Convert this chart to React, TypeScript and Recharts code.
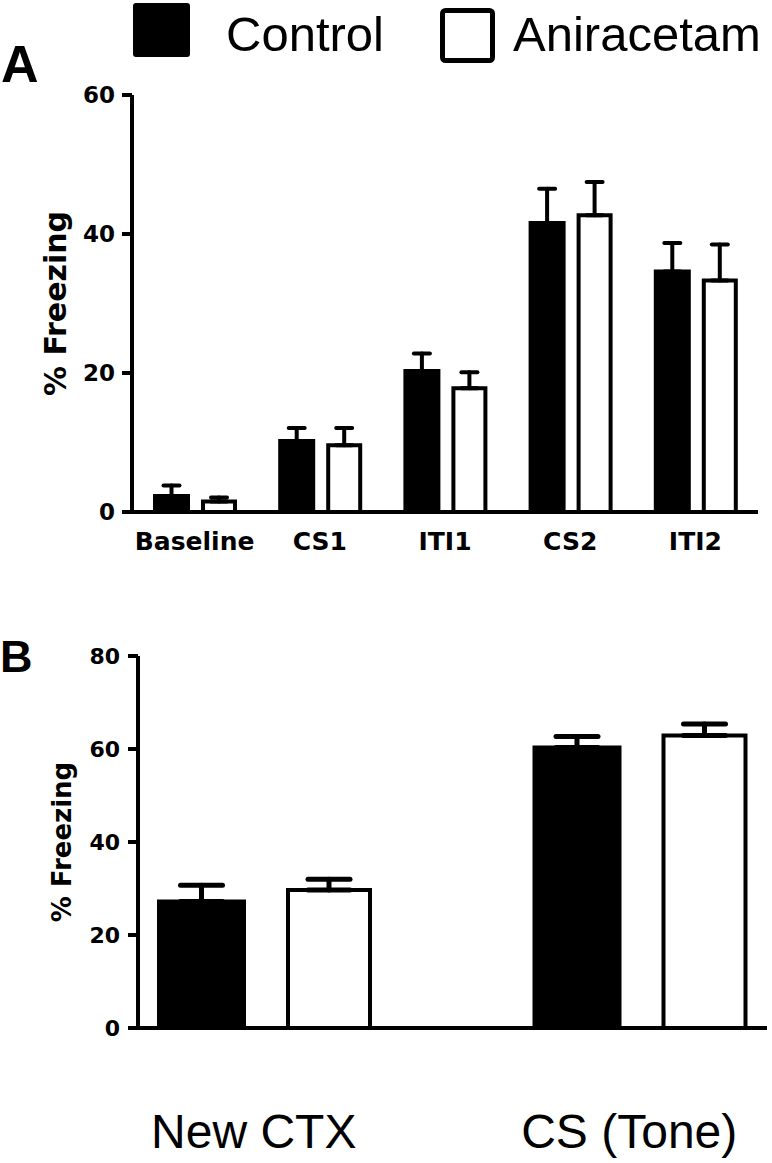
import React from 'react';
import { BarChart, Bar, XAxis, YAxis, ErrorBar, Legend } from 'recharts';

// ---- Panel A data ----
const categoriesA = ['Baseline', 'CS1', 'ITI1', 'CS2', 'ITI2'];
const controlA = [2.3, 10.2, 20.3, 41.6, 34.6];
const controlErrA = [1.5, 1.9, 2.5, 4.9, 4.1];
const aniracetamA = [1.5, 9.6, 17.8, 42.7, 33.3];
const aniracetamErrA = [0.6, 2.5, 2.3, 4.8, 5.2];
const ticksA = [0, 20, 40, 60];

// ---- Panel B data ----
const categoriesB = ['New CTX', 'CS (Tone)'];
const controlB = [27.2, 60.3];
const controlErrB = [3.5, 2.4];
const aniracetamB = [29.7, 62.9];
const aniracetamErrB = [2.3, 2.5];
const ticksB = [0, 20, 40, 60, 80];

const seriesNames = ['Control', 'Aniracetam'];
const yLabel = '% Freezing';

const dataA = categoriesA.map((c, i) => ({
  name: c,
  control: controlA[i],
  controlErr: [0, controlErrA[i]],
  ani: aniracetamA[i],
  aniErr: [0, aniracetamErrA[i]],
}));

const dataB = categoriesB.map((c, i) => ({
  name: c,
  control: controlB[i],
  controlErr: [0, controlErrB[i]],
  ani: aniracetamB[i],
  aniErr: [0, aniracetamErrB[i]],
}));

const BOLD = "'DejaVu Sans', sans-serif";
const REG = "'Liberation Sans', Arial, sans-serif";

const legendBoxes = [
  { x: 133, y: 3, w: 57, h: 54, sw: 0, tx: 226 },
  { x: 442.5, y: 10.5, w: 50, h: 50, sw: 5, tx: 513 },
];

const LegendContent = (props: any) => {
  const payload = props.payload || [];
  return (
    <svg width={772} height={70} style={{ display: 'block' }}>
      {payload.map((p: any, i: number) => {
        const idx = Math.max(0, seriesNames.indexOf(p.value));
        const b = legendBoxes[idx];
        return (
          <g key={i}>
            <rect x={b.x} y={b.y} width={b.w} height={b.h} rx={3} fill={p.color} stroke="#000" strokeWidth={b.sw} />
            <text x={b.tx} y={51} fontFamily={REG} fontSize={49} fill="#000">
              {p.value}
            </text>
          </g>
        );
      })}
    </svg>
  );
};

const makeYLabel = (cx: number, size: number) => (props: any) => {
  const vb = props.viewBox || { y: 0, height: 0 };
  const cy = vb.y + vb.height / 2;
  return (
    <text
      x={cx}
      y={cy}
      transform={`rotate(-90, ${cx}, ${cy})`}
      textAnchor="middle"
      dominantBaseline="central"
      fontFamily={BOLD}
      fontWeight="bold"
      fontSize={size}
      fill="#000"
    >
      {yLabel}
    </text>
  );
};

export default function App() {
  return (
    <div style={{ position: 'absolute', left: 0, top: 0, width: 772, height: 1163, background: '#fff' }}>
      <div style={{ position: 'absolute', left: 0, top: 0 }}>
        <BarChart
          width={772}
          height={560}
          data={dataA}
          margin={{ top: 95, right: 14, left: 0, bottom: 0 }}
          barGap={15}
        >
          <XAxis
            dataKey="name"
            interval={0}
            height={48}
            tickSize={0}
            tickMargin={20}
            axisLine={{ stroke: '#000', strokeWidth: 4 }}
            tickLine={false}
            tick={{ fill: '#000', fontSize: 25, fontWeight: 'bold', fontFamily: BOLD }}
          />
          <YAxis
            type="number"
            domain={[0, 60]}
            ticks={ticksA}
            width={132}
            tickSize={10}
            tickMargin={7}
            axisLine={{ stroke: '#000', strokeWidth: 4 }}
            tickLine={{ stroke: '#000', strokeWidth: 4 }}
            tick={{ fill: '#000', fontSize: 23, fontWeight: 'bold', fontFamily: BOLD }}
            label={{ content: makeYLabel(55, 30) }}
          />
          <Legend
            layout="horizontal"
            verticalAlign="middle"
            align="center"
            itemSorter={null as any}
            wrapperStyle={{ position: 'absolute', top: 0, left: 0, width: 772, height: 70 }}
            content={<LegendContent />}
          />
          <Bar dataKey="control" name={seriesNames[0]} fill="#000" stroke="#000" strokeWidth={4} barSize={33} isAnimationActive={false}>
            <ErrorBar dataKey="controlErr" direction="y" width={8} strokeWidth={4} stroke="#000" strokeLinecap="round" isAnimationActive={false} />
          </Bar>
          <Bar dataKey="ani" name={seriesNames[1]} fill="#fff" stroke="#000" strokeWidth={4} barSize={32} isAnimationActive={false}>
            <ErrorBar dataKey="aniErr" direction="y" width={8} strokeWidth={4} stroke="#000" strokeLinecap="round" isAnimationActive={false} />
          </Bar>
        </BarChart>
      </div>

      <div style={{ position: 'absolute', left: 0, top: 580 }}>
        <BarChart
          width={772}
          height={583}
          data={dataB}
          margin={{ top: 76, right: 5, left: 0, bottom: 0 }}
          barGap={44}
        >
          <XAxis
            dataKey="name"
            interval={0}
            height={135}
            tickSize={0}
            tickMargin={86}
            padding={{ left: -61, right: -61 }}
            axisLine={{ stroke: '#000', strokeWidth: 4 }}
            tickLine={false}
            tick={{ fill: '#000', fontSize: 48, fontFamily: REG, dx: -11 }}
          />
          <YAxis
            type="number"
            domain={[0, 80]}
            ticks={ticksB}
            width={138}
            tickSize={10}
            tickMargin={8}
            axisLine={{ stroke: '#000', strokeWidth: 4 }}
            tickLine={{ stroke: '#000', strokeWidth: 4 }}
            tick={{ fill: '#000', fontSize: 22, fontWeight: 'bold', fontFamily: BOLD }}
            label={{ content: makeYLabel(62, 26) }}
          />
          <Bar dataKey="control" name={seriesNames[0]} fill="#000" stroke="#000" strokeWidth={4} barSize={85} isAnimationActive={false}>
            <ErrorBar dataKey="controlErr" direction="y" width={21} strokeWidth={5} stroke="#000" strokeLinecap="round" isAnimationActive={false} />
          </Bar>
          <Bar dataKey="ani" name={seriesNames[1]} fill="#fff" stroke="#000" strokeWidth={4} barSize={82} isAnimationActive={false}>
            <ErrorBar dataKey="aniErr" direction="y" width={21} strokeWidth={5} stroke="#000" strokeLinecap="round" isAnimationActive={false} />
          </Bar>
        </BarChart>
      </div>

      <svg width={772} height={1163} style={{ position: 'absolute', left: 0, top: 0, pointerEvents: 'none' }}>
        <text x={1} y={82} fontFamily={REG} fontWeight="bold" fontSize={52} fill="#000">A</text>
        <text x={0} y={672} fontFamily={REG} fontWeight="bold" fontSize={45} fill="#000">B</text>
      </svg>
    </div>
  );
}
